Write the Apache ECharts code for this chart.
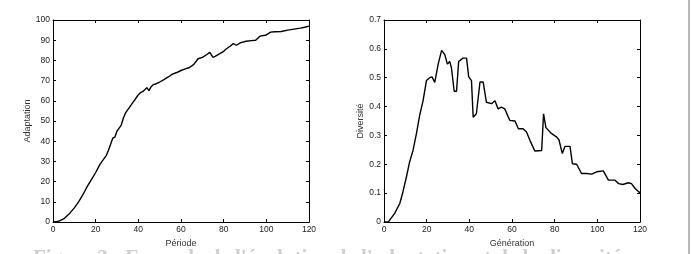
<!DOCTYPE html>
<html>
<head>
<meta charset="utf-8">
<script src="https://cdn.jsdelivr.net/npm/echarts@6/dist/echarts.min.js"></script>
<style>
  html, body { margin: 0; padding: 0; background: #fff; }
  #chart { width: 691px; height: 254px; }
</style>
</head>
<body>
<div id="chart"></div>
<script>
// courbe d'adaptation (gauche)
const periodes = [0, 2, 3, 4, 5, 6, 8, 10, 12, 14, 16, 18, 20, 22, 24, 25, 26, 27, 28, 29, 30, 31, 32, 33, 34, 35, 36, 38, 40, 41, 42, 43, 44, 45, 46, 47, 48, 50, 52, 54, 56, 58, 60, 62, 64, 66, 68, 70, 72, 73.5, 75, 76, 78, 80, 81, 83, 84.5, 86, 88, 90.5, 93, 95, 97, 100, 102, 104, 107, 110, 113, 116, 118, 120];
const adaptation = [0, 0.3, 0.5, 1, 1.5, 2.5, 4.5, 7, 10, 13.5, 17.5, 21, 24.5, 28.5, 31.5, 33, 35.5, 38.5, 41.5, 42, 45, 46.5, 48, 51.5, 54, 55.5, 57, 60, 63, 64, 64.5, 65.5, 66.5, 65, 67, 68, 68.3, 69.3, 70.5, 71.8, 73.2, 74, 75, 75.8, 76.5, 78, 80.8, 81.5, 82.8, 84, 81.5, 82, 83.2, 84.5, 85.5, 87, 88.3, 87.5, 88.8, 89.5, 89.8, 90, 92, 92.6, 94, 94.2, 94.3, 95, 95.5, 96, 96.4, 97];

// courbe de diversité (droite)
const generations = [0, 2, 3, 5, 7.4, 8.9, 10.5, 12, 13.6, 15.2, 16.7, 18.3, 19.9, 21.4, 22.5, 23.8, 25.4, 27, 28.5, 29.7, 30.8, 31.6, 32.9, 34, 35, 37, 38.7, 39.7, 41, 41.8, 43.3, 44, 45, 46.5, 48, 50.4, 52, 53.5, 55, 56.6, 59, 61.4, 63, 65.2, 66.8, 68.4, 70.7, 73.9, 74.8, 75.9, 78.6, 81, 82, 83.6, 84.8, 87.2, 88.3, 90.3, 92.6, 95, 97.3, 99.7, 102.8, 105.2, 108.3, 110, 112, 114.5, 116, 117.7, 120];
const diversite = [0, 0, 0.01, 0.03, 0.064, 0.105, 0.156, 0.208, 0.248, 0.306, 0.369, 0.42, 0.49, 0.5, 0.503, 0.484, 0.547, 0.595, 0.58, 0.547, 0.556, 0.535, 0.453, 0.453, 0.556, 0.568, 0.568, 0.503, 0.49, 0.363, 0.375, 0.375, 0.485, 0.485, 0.415, 0.41, 0.42, 0.392, 0.398, 0.392, 0.352, 0.35, 0.323, 0.323, 0.312, 0.283, 0.246, 0.248, 0.375, 0.327, 0.306, 0.294, 0.285, 0.237, 0.262, 0.262, 0.202, 0.2, 0.168, 0.168, 0.166, 0.174, 0.177, 0.145, 0.145, 0.133, 0.13, 0.136, 0.133, 0.116, 0.101];

const caption = "Figure 3 : Exemple de l'évolution de l'adaptation et de la diversité";

const chart = echarts.init(document.getElementById('chart'));

const labelStyle = { color: '#222', fontSize: 8.5, fontFamily: 'Liberation Sans, Arial, sans-serif' };
const nameStyle = { color: '#333', fontSize: 9, fontFamily: 'Liberation Sans, Arial, sans-serif' };
const lineStyle = { color: '#000', width: 1 };

function xAxes(gi, name) {
    return [{
        type: 'value', gridIndex: gi, min: 0, max: 120, interval: 20,
        name: name, nameLocation: 'middle', nameGap: 12, nameTextStyle: nameStyle,
        axisLine: { onZero: false, lineStyle: lineStyle },
        axisTick: { inside: true, length: 3, lineStyle: lineStyle },
        axisLabel: Object.assign({ margin: 3 }, labelStyle),
        splitLine: { show: false }
    }, {
        type: 'value', gridIndex: gi, position: 'top', min: 0, max: 120, interval: 20,
        axisLine: { onZero: false, lineStyle: lineStyle },
        axisTick: { inside: true, length: 3, lineStyle: lineStyle },
        axisLabel: { show: false }, splitLine: { show: false }
    }];
}

function yAxes(gi, name, max, step, fmt, gap) {
    return [{
        type: 'value', gridIndex: gi, min: 0, max: max, interval: step,
        name: name, nameLocation: 'middle', nameGap: gap, nameRotate: 90, nameTextStyle: nameStyle,
        axisLine: { onZero: false, lineStyle: lineStyle },
        axisTick: { inside: true, length: 3, lineStyle: lineStyle },
        axisLabel: Object.assign({ margin: 3, formatter: fmt }, labelStyle),
        splitLine: { show: false }
    }, {
        type: 'value', gridIndex: gi, position: 'right', min: 0, max: max, interval: step,
        axisLine: { onZero: false, lineStyle: lineStyle },
        axisTick: { inside: true, length: 3, lineStyle: lineStyle },
        axisLabel: { show: false }, splitLine: { show: false }
    }];
}

chart.setOption({
    backgroundColor: '#fff',
    animation: false,
    grid: [
        { left: 53, right: 382, top: 20, bottom: 32 },
        { left: 384, right: 51, top: 20, bottom: 32 }
    ],
    xAxis: xAxes(0, 'Période').concat(xAxes(1, 'Génération')),
    yAxis: yAxes(0, 'Adaptation', 100, 10, v => v, 18)
        .concat(yAxes(1, 'Diversité', 0.7, 0.1, v => v === 0 ? '0' : v.toFixed(1), 18)),
    series: [{
        type: 'line', xAxisIndex: 0, yAxisIndex: 0, showSymbol: false,
        lineStyle: { color: '#000', width: 1.4 },
        data: periodes.map((p, i) => [p, adaptation[i]])
    }, {
        type: 'line', xAxisIndex: 2, yAxisIndex: 2, showSymbol: false,
        lineStyle: { color: '#000', width: 1.4 },
        data: generations.map((g, i) => [g, diversite[i]])
    }],
    graphic: [{
        type: 'rect', left: 688, top: 0,
        shape: { width: 2, height: 254 },
        style: { fill: '#b8b8b8' }
    }, {
        type: 'text', left: 33, top: 248,
        style: {
            text: caption, fill: '#cfcfcf',
            font: 'bold 21px "Liberation Serif", serif'
        }
    }]
});
</script>
</body>
</html>
